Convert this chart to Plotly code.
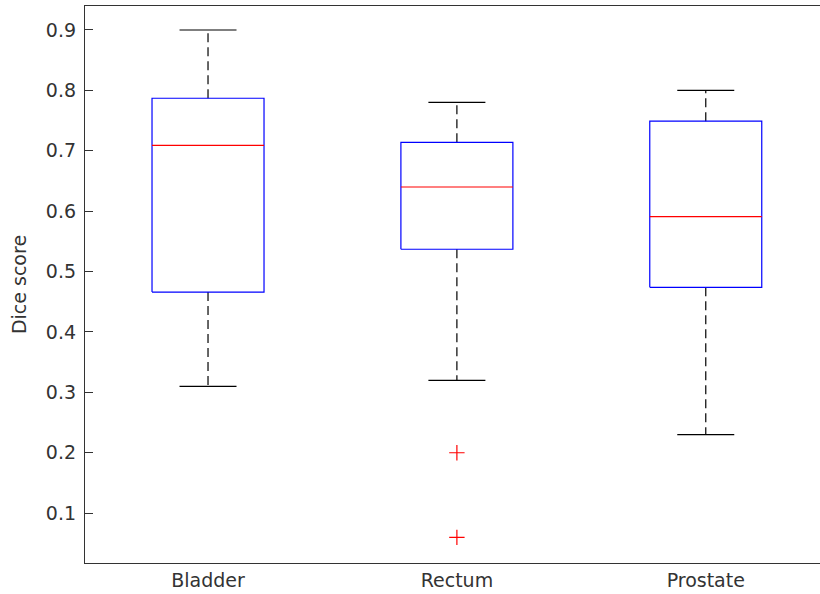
import plotly.graph_objects as go

categories = ["Bladder", "Rectum", "Prostate"]
lower_whisker = [0.31, 0.32, 0.23]
q1 = [0.466, 0.537, 0.474]
median = [0.709, 0.640, 0.591]
q3 = [0.787, 0.714, 0.749]
upper_whisker = [0.90, 0.78, 0.80]
outlier_group = ["Rectum", "Rectum"]
outlier_values = [0.20, 0.06]
y_ticks = [0.1, 0.2, 0.3, 0.4, 0.5, 0.6, 0.7, 0.8, 0.9]

BOX_HW = 0.225
CAP_HW = 0.1145
pos = {c: i + 1 for i, c in enumerate(categories)}

bx, by, mx, my, wx, wy, cx, cy = [], [], [], [], [], [], [], []
for i, c in enumerate(categories):
    p = pos[c]
    bx += [p - BOX_HW, p + BOX_HW, p + BOX_HW, p - BOX_HW, p - BOX_HW, None]
    by += [q1[i], q1[i], q3[i], q3[i], q1[i], None]
    mx += [p - BOX_HW, p + BOX_HW, None]
    my += [median[i], median[i], None]
    wx += [p, p, None, p, p, None]
    wy += [q3[i], upper_whisker[i], None, q1[i], lower_whisker[i], None]
    cx += [p - CAP_HW, p + CAP_HW, None, p - CAP_HW, p + CAP_HW, None]
    cy += [upper_whisker[i], upper_whisker[i], None, lower_whisker[i], lower_whisker[i], None]

fig = go.Figure()
fig.add_trace(go.Scatter(x=wx, y=wy, mode="lines", line=dict(color="black", width=1.2, dash="9px,5px"), hoverinfo="skip"))
fig.add_trace(go.Scatter(x=cx, y=cy, mode="lines", line=dict(color="black", width=1.2), hoverinfo="skip"))
fig.add_trace(go.Scatter(x=bx, y=by, mode="lines", line=dict(color="#0000ff", width=1.2), hoverinfo="skip"))
fig.add_trace(go.Scatter(x=mx, y=my, mode="lines", line=dict(color="#ff0000", width=1.2), hoverinfo="skip"))
fig.add_trace(go.Scatter(x=[pos[g] for g in outlier_group], y=outlier_values, mode="markers",
                         marker=dict(symbol="cross-thin", size=11, line=dict(color="#ff0000", width=1.2)),
                         hoverinfo="skip"))

font = dict(family="DejaVu Sans, Arial, sans-serif", size=19, color="#333333")
fig.update_layout(
    width=820, height=594,
    margin=dict(l=85, r=0, t=6, b=31),
    paper_bgcolor="white", plot_bgcolor="white",
    showlegend=False,
    font=font,
)
fig.update_xaxes(
    range=[0.5057, 3.459], tickvals=[1, 2, 3], ticktext=categories, ticks="",
    showline=True, mirror=True, linecolor="#333333", linewidth=1.3, showgrid=False, zeroline=False,
    tickfont=font,
)
fig.update_yaxes(
    range=[0.0175, 0.9397], tickvals=y_ticks, ticktext=[f"{v:.1f}" for v in y_ticks],
    ticks="inside", ticklen=8, tickcolor="#333333", ticklabelstandoff=4,
    showline=True, linecolor="#333333", linewidth=1.3, showgrid=False, zeroline=False,
    title=dict(text="Dice score", font=font, standoff=14), tickfont=font,
)
fig.write_html("out.html", config={"displayModeBar": False},
               post_script="document.body.style.margin='0';document.body.style.overflow='hidden';")
